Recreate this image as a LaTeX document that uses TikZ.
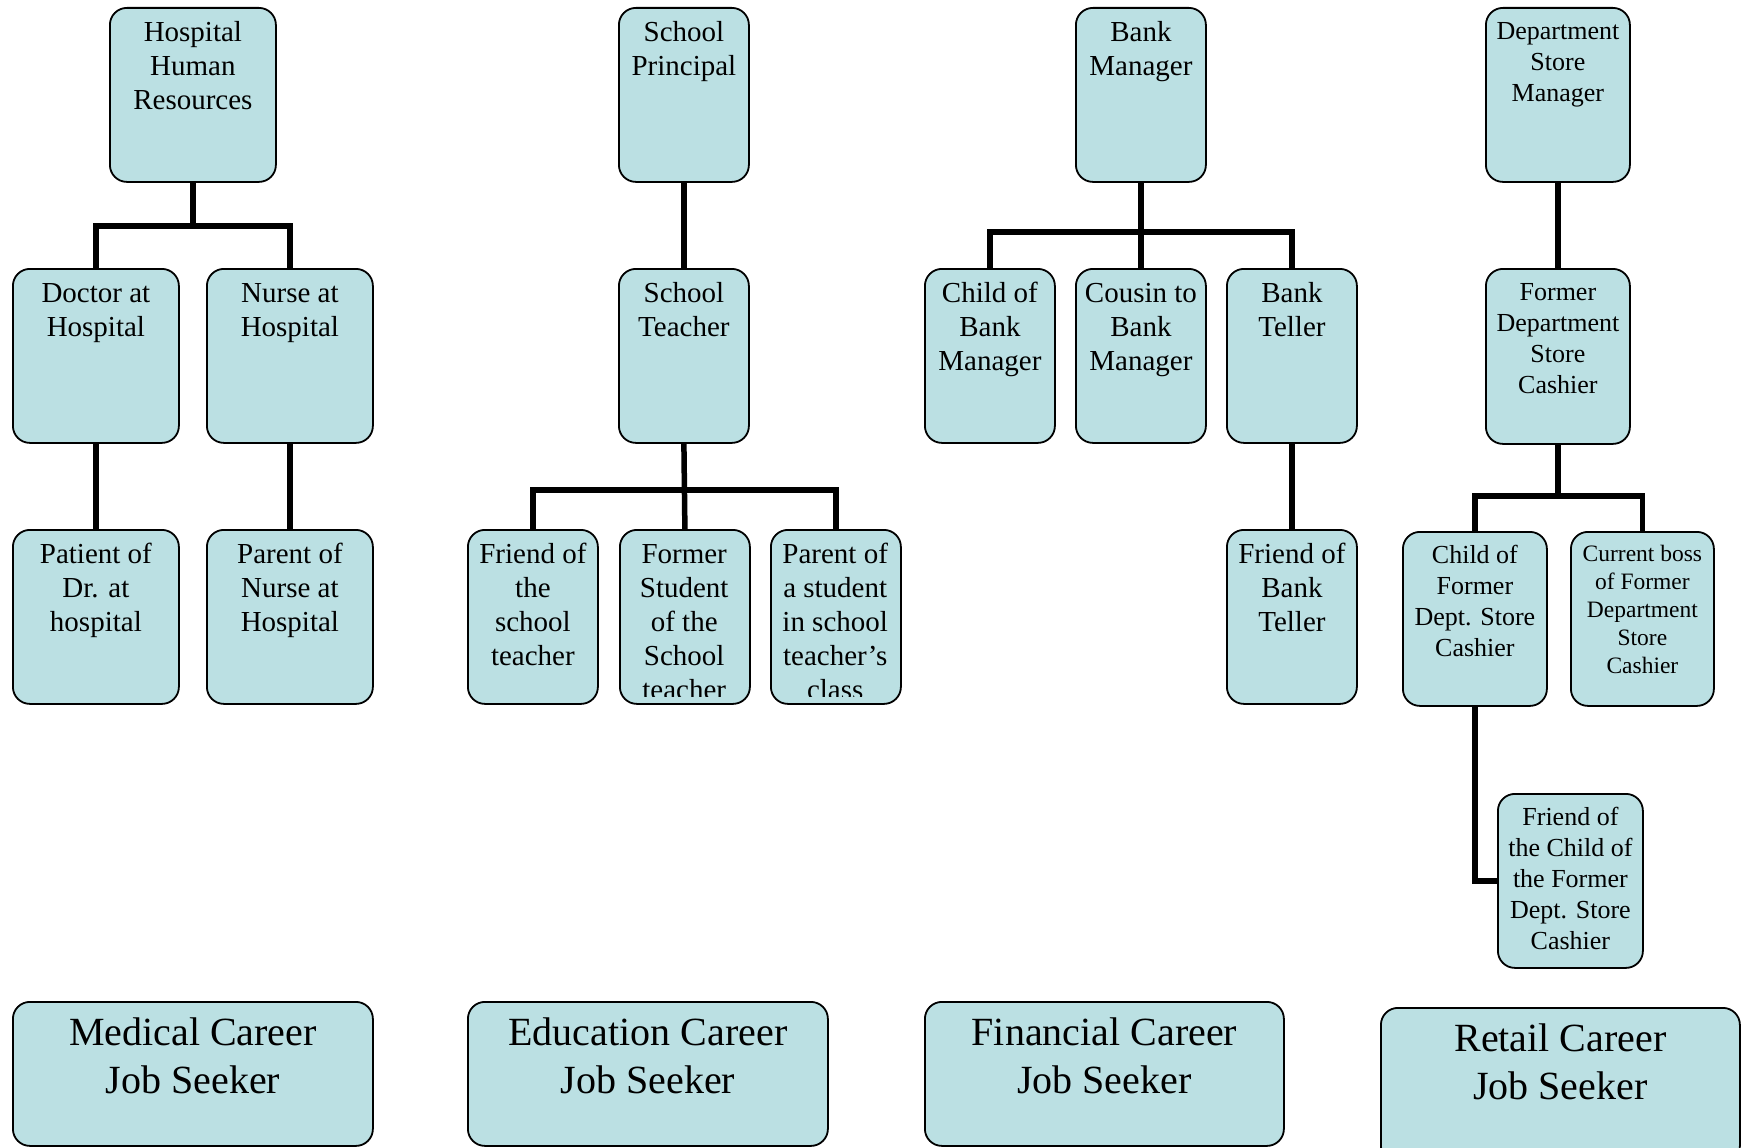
\documentclass[tikz,border=0pt]{standalone}
\usepackage{fontspec}
\setmainfont{Liberation Serif}
\usepackage{tikz}

\definecolor{cardfill}{RGB}{187,224,227}
\newcommand{\cardhuge}{\fontsize{40}{48}\selectfont}
\newcommand{\cardbig}{\fontsize{29}{34}\selectfont}
\newcommand{\cardmid}{\fontsize{26}{31}\selectfont}
\newcommand{\cardsmall}{\fontsize{23.5}{28}\selectfont}
% text sits at the top of each card
\newcommand{\cardtext}[3]{\parbox[c][#2][t]{#1}{\vspace*{10pt}\centering\strut#3}}

\begin{document}
\begin{tikzpicture}[
      x=1pt, y=-1pt,
      card/.style={draw=black, line width=1.8pt, fill=cardfill, rounded corners=17pt,
        inner sep=0pt, anchor=north west},
      cardlabel/.style={inner sep=0pt, anchor=north west},
      link/.style={line width=5.5pt}
    ]
      \useasboundingbox (0,0) rectangle (1741,1148);

      % medical
      \node[card, font=\cardbig] (hr) at (109,7) {\cardtext{166pt}{174pt}{Hospital\\Human\\Resources}};
      \node[card, font=\cardbig] (doctor) at (12,268) {\cardtext{166pt}{174pt}{Doctor at\\Hospital}};
      \node[card, font=\cardbig] (nurse) at (206,268) {\cardtext{166pt}{174pt}{Nurse at\\Hospital}};
      \node[card, font=\cardbig] (patient) at (12,529) {\cardtext{166pt}{174pt}{Patient of\\Dr. at\\hospital}};
      \node[card, font=\cardbig] (parentN) at (206,529) {\cardtext{166pt}{174pt}{Parent of\\Nurse at\\Hospital}};

      % education
      \node[card, font=\cardbig] (principal) at (618,7) {\cardtext{130pt}{174pt}{School\\Principal}};
      \node[card, font=\cardbig] (teacher) at (618,268) {\cardtext{130pt}{174pt}{School\\Teacher}};
      \node[card, font=\cardbig] (friendT) at (467,529) {\cardtext{130pt}{174pt}{Friend of\\the\\school\\teacher}};
      \node[card, minimum width=130pt, minimum height=174pt] (student) at (619,529) {};
      \node[card, minimum width=130pt, minimum height=174pt] (parentS) at (770,529) {};
      \begin{scope}
        \clip (student.north west) rectangle ([yshift=8pt]student.south east);
        \node[cardlabel, font=\cardbig] (studentTxt) at (student.north west)
          {\cardtext{130pt}{174pt}{Former\\Student\\of the\\School\\teacher}};
      \end{scope}
      \begin{scope}
        \clip (parentS.north west) rectangle ([yshift=8pt]parentS.south east);
        \node[cardlabel, font=\cardbig] (parentSTxt) at (parentS.north west)
          {\cardtext{130pt}{174pt}{Parent of\\a student\\in school\\teacher’s\\class}};
      \end{scope}

      % financial
      \node[card, font=\cardbig] (bankmgr) at (1075,7) {\cardtext{130pt}{174pt}{Bank\\Manager}};
      \node[card, font=\cardbig] (childB) at (924,268) {\cardtext{130pt}{174pt}{Child of\\Bank\\Manager}};
      \node[card, font=\cardbig] (cousin) at (1075,268) {\cardtext{130pt}{174pt}{Cousin to\\Bank\\Manager}};
      \node[card, font=\cardbig] (teller) at (1226,268) {\cardtext{130pt}{174pt}{Bank\\Teller}};
      \node[card, font=\cardbig] (friendB) at (1226,529) {\cardtext{130pt}{174pt}{Friend of\\Bank\\Teller}};

      % retail
      \node[card, font=\cardmid] (storemgr) at (1485,7) {\cardtext{144pt}{174pt}{Department\\Store\\Manager}};
      \node[card, font=\cardmid] (cashier) at (1485,268) {\cardtext{144pt}{175pt}{Former\\Department\\Store\\Cashier}};
      \node[card, font=\cardmid] (childC) at (1402,531) {\cardtext{144pt}{174pt}{Child of\\Former\\Dept. Store\\Cashier}};
      \node[card, font=\cardsmall] (boss) at (1570,531) {\cardtext{143pt}{174pt}{Current boss\\of Former\\Department\\Store\\Cashier}};
      \node[card, font=\cardmid] (friendC) at (1497,793) {\cardtext{145pt}{174pt}{Friend of\\the Child of\\the Former\\Dept. Store\\Cashier}};

      % job seekers
      \node[card, font=\cardhuge] (medical) at (12,1001) {\cardtext{360pt}{144pt}{Medical Career\\Job Seeker}};
      \node[card, font=\cardhuge] (education) at (467,1001) {\cardtext{360pt}{144pt}{Education Career\\Job Seeker}};
      \node[card, font=\cardhuge] (financial) at (924,1001) {\cardtext{359pt}{144pt}{Financial Career\\Job Seeker}};
      \node[card, font=\cardhuge] (retail) at (1380,1007) {\cardtext{359pt}{155pt}{Retail Career\\Job Seeker}};

      % connectors
      \coordinate (hrBus) at (0,226);
      \coordinate (teacherBus) at (0,490);
      \coordinate (bankBus) at (0,232);
      \coordinate (cashierBus) at (0,496);

      \draw[link] (hr.south) -- (hr.south |- hrBus);
      \draw[link] (doctor.north) |- (hr.south |- hrBus) -| (nurse.north);
      \draw[link] (doctor.south) -- (patient.north);
      \draw[link] (nurse.south) -- (parentN.north);

      \draw[link] (principal.south) -- (teacher.north);
      \draw[link] (teacher.south) -- (student.north);
      \draw[link] (friendT.north) |- (teacher.south |- teacherBus) -| (parentS.north);

      \draw[link] (bankmgr.south) -- (cousin.north);
      \draw[link] (childB.north) |- (bankmgr.south |- bankBus) -| (teller.north);
      \draw[link] (teller.south) -- (friendB.north);

      \draw[link] (storemgr.south) -- (cashier.north);
      \draw[link] (cashier.south) -- (cashier.south |- cashierBus);
      \draw[link] (childC.north) |- (cashier.south |- cashierBus) -| (boss.north);
      \draw[link] (childC.south) |- (friendC.west);
    \end{tikzpicture}
\end{document}
